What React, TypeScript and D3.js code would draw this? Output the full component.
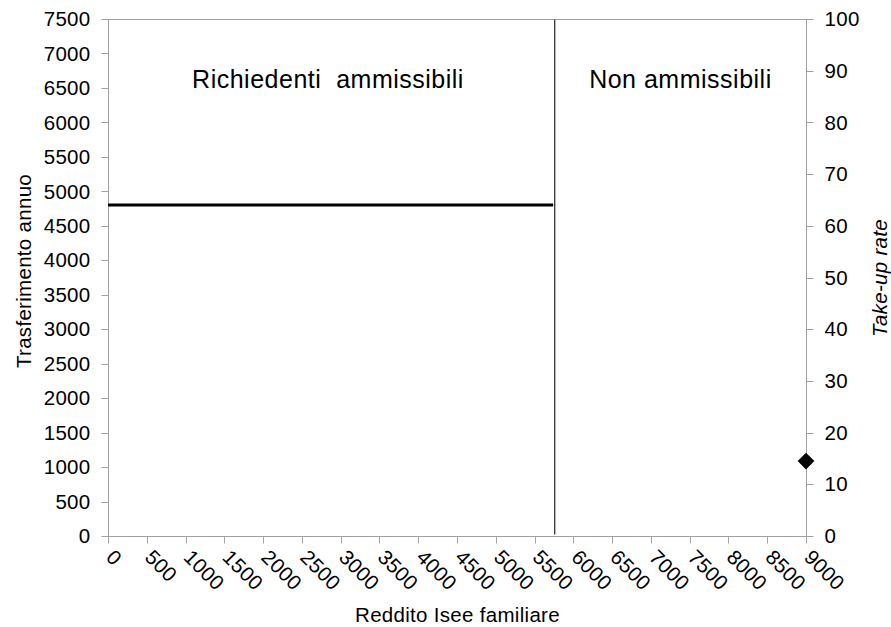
import React from "react";
import * as d3 from "d3";

const xTickValues = [0, 500, 1000, 1500, 2000, 2500, 3000, 3500, 4000, 4500, 5000, 5500, 6000, 6500, 7000, 7500, 8000, 8500, 9000];
const leftTickValues = [0, 500, 1000, 1500, 2000, 2500, 3000, 3500, 4000, 4500, 5000, 5500, 6000, 6500, 7000, 7500];
const rightTickValues = [0, 10, 20, 30, 40, 50, 60, 70, 80, 90, 100];
const transferIncome = [0, 5740];
const transferAmount = [4800, 4800];
const thresholdIncome = [5760];
const takeUpIncome = [9000];
const takeUpRate = [14.5];
const regionLabels = ["Richiedenti  ammissibili", "Non ammissibili"];
const xTitle = "Reddito Isee familiare";
const leftTitle = "Trasferimento annuo";
const rightTitle = "Take-up rate";

const W = 891;
const H = 627;
const M = { left: 108, right: 85, top: 19, bottom: 91 };
const FONT = "'Liberation Sans', Arial, sans-serif";
const AXIS = "#a0a0a0";
const FS = 20.5;

export default function App() {
  const x = d3.scaleLinear().domain([0, 9000]).range([M.left, W - M.right]);
  const yL = d3.scaleLinear().domain([0, 7500]).range([H - M.bottom, M.top]);
  const yR = d3.scaleLinear().domain([0, 100]).range([H - M.bottom, M.top]);
  const x0 = M.left + 0.5;
  const x1 = W - M.right + 0.5;
  const yB = H - M.bottom + 0.5;
  const yT = M.top + 0.5;

  const line = d3
    .line<number>()
    .x((_, i) => x(transferIncome[i]))
    .y((_, i) => yL(transferAmount[i]));
  const diamond = d3.symbol().type(d3.symbolSquare).size(140)();

  const labelPos = [2837, 7381];

  return (
    <div style={{ position: "absolute", left: 0, top: 0 }}>
      <svg width={W} height={H} style={{ display: "block", background: "#fff" }} fontFamily={FONT}>
        <rect width={W} height={H} fill="#fff" />
        {/* plot frame */}
        <line x1={x0} x2={x1} y1={yT} y2={yT} stroke={AXIS} />
        <line x1={x0} x2={x0} y1={yT} y2={yB} stroke={AXIS} />
        <line x1={x1} x2={x1} y1={yT} y2={yB} stroke={AXIS} />
        <line x1={x0} x2={x1} y1={yB} y2={yB} stroke={AXIS} />

        {/* left axis */}
        {leftTickValues.map((v) => (
          <g key={"l" + v}>
            <line x1={x0 - 7} x2={x0} y1={Math.round(yL(v)) + 0.5} y2={Math.round(yL(v)) + 0.5} stroke={AXIS} />
            <text x={x0 - 18} y={yL(v)} dy="0.35em" textAnchor="end" fontSize={FS} letterSpacing={0.3} fill="#000">
              {v}
            </text>
          </g>
        ))}
        {/* right axis */}
        {rightTickValues.map((v) => (
          <g key={"r" + v}>
            <line x1={x1} x2={x1 + 7} y1={Math.round(yR(v)) + 0.5} y2={Math.round(yR(v)) + 0.5} stroke={AXIS} />
            <text x={x1 + 18} y={yR(v)} dy="0.35em" textAnchor="start" fontSize={FS} letterSpacing={0.3} fill="#000">
              {v}
            </text>
          </g>
        ))}
        {/* x axis */}
        {xTickValues.map((v) => (
          <g key={"x" + v}>
            <line x1={Math.round(x(v)) + 0.5} x2={Math.round(x(v)) + 0.5} y1={yB} y2={yB + 7} stroke={AXIS} />
            <text
              transform={`translate(${x(v) - 3},${yB + 22}) rotate(45)`}
              textAnchor="start"
              fontSize={FS}
              letterSpacing={0.3}
              fill="#000"
            >
              {v}
            </text>
          </g>
        ))}

        {/* threshold vertical line */}
        {thresholdIncome.map((v) => (
          <line key={"t" + v} x1={x(v)} x2={x(v)} y1={yT} y2={yB - 2} stroke="#222" strokeWidth={1.2} />
        ))}

        {/* transfer line */}
        <path d={line(transferAmount) || ""} fill="none" stroke="#000" strokeWidth={3} />

        {/* take-up point */}
        {takeUpIncome.map((v, i) => (
          <path
            key={"d" + i}
            d={diamond || ""}
            transform={`translate(${x(v)},${yR(takeUpRate[i])}) rotate(45)`}
            fill="#000"
          />
        ))}

        {/* region labels */}
        {regionLabels.map((t, i) => (
          <text
            key={t}
            x={x(labelPos[i])}
            y={yL(6500)}
            textAnchor="middle"
            fontSize={25}
            letterSpacing={0.5}
            style={{ whiteSpace: "pre" }}
            fill="#000"
          >
            {t}
          </text>
        ))}

        {/* axis titles */}
        <text x={(x0 + x1) / 2} y={622} textAnchor="middle" fontSize={FS} letterSpacing={0.3} fill="#000">
          {xTitle}
        </text>
        <text
          transform={`translate(31,${(yT + yB) / 2 - 7}) rotate(-90)`}
          textAnchor="middle"
          fontSize={FS}
          letterSpacing={0.3}
          fill="#000"
        >
          {leftTitle}
        </text>
        <text
          transform={`translate(887,${(yT + yB) / 2}) rotate(-90)`}
          textAnchor="middle"
          fontSize={FS}
          fontStyle="italic"
          letterSpacing={0.3}
          fill="#000"
        >
          {rightTitle}
        </text>
      </svg>
    </div>
  );
}
